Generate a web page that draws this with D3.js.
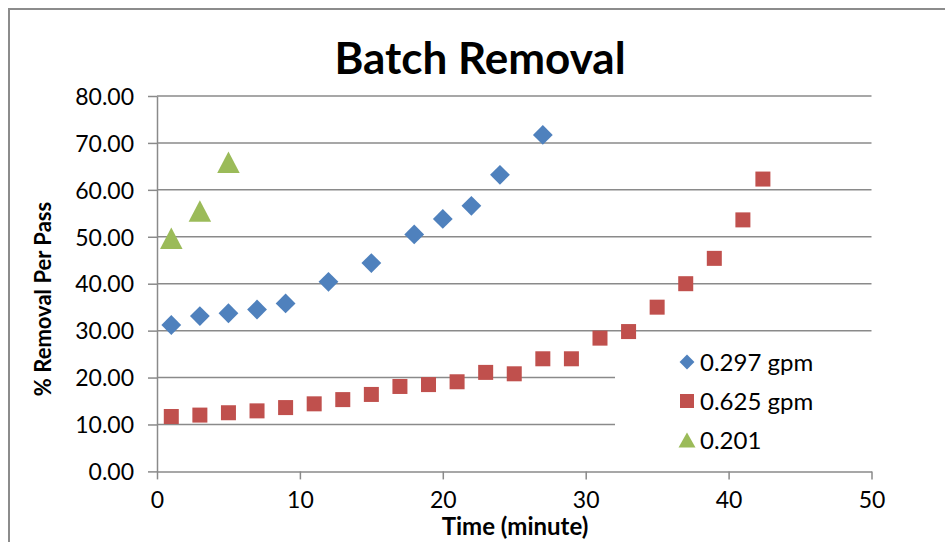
<!DOCTYPE html>
<html>
<head>
<meta charset="utf-8">
<script src="https://cdn.jsdelivr.net/npm/d3@7"></script>
<style>
  body { margin: 0; background: #fff; }
  text { font-family: Lato, "Open Sans", sans-serif; fill: #000; }
</style>
</head>
<body>
<div id="viz"></div>
<script>
var blueTime = [1, 3, 5, 7, 9, 12, 15, 18, 20, 22, 24, 27];
var blueValue = [31.2, 33.1, 33.7, 34.5, 35.8, 40.4, 44.4, 50.5, 53.8, 56.6, 63.2, 71.7];

var redTime = [1, 3, 5, 7, 9, 11, 13, 15, 17, 19, 21, 23, 25, 27, 29, 31, 33, 35, 37, 39, 41, 42.4];
var redValue = [11.7, 12.0, 12.5, 12.9, 13.6, 14.4, 15.3, 16.4, 18.1, 18.5, 19.1, 21.1, 20.8, 24.0, 24.0, 28.4, 29.8, 35.0, 40.0, 45.4, 53.6, 62.3];

var greenTime = [1, 3, 5];
var greenValue = [49.7, 55.5, 65.9];

var seriesNames = ["0.297 gpm", "0.625 gpm", "0.201"];
var xTicks = [0, 10, 20, 30, 40, 50];
var yTicks = [0, 10, 20, 30, 40, 50, 60, 70, 80];

var W = 945, H = 542;
var gridColor = "#8a8a8a";
var colors = ["#4f81bd", "#c0504d", "#9bbb59"];

var svg = d3
  .select("#viz")
  .append("svg")
  .attr("width", W)
  .attr("height", H);

// chart frame (cropped on right and bottom)
svg
  .append("path")
  .attr("d", "M9,560 L9,9 L960,9")
  .attr("fill", "none")
  .attr("stroke", "#8c8c8c")
  .attr("stroke-width", 2);

var x = d3.scaleLinear().domain([0, 50]).range([157, 871.5]);
var y = d3.scaleLinear().domain([0, 80]).range([471.4, 96]);

// gridlines
svg
  .append("g")
  .selectAll("line")
  .data(yTicks.slice(1))
  .enter()
  .append("line")
  .attr("x1", x(0))
  .attr("x2", x(50))
  .attr("y1", (d) => y(d))
  .attr("y2", (d) => y(d))
  .attr("stroke", gridColor)
  .attr("stroke-width", 1.5);

var yAxis = d3
  .axisLeft(y)
  .tickValues(yTicks)
  .tickFormat(d3.format(".2f"))
  .tickSizeInner(9)
  .tickSizeOuter(0)
  .tickPadding(14);

var xAxis = d3
  .axisBottom(x)
  .tickValues(xTicks)
  .tickSizeInner(8)
  .tickSizeOuter(0)
  .tickPadding(12);

var gy = svg
  .append("g")
  .attr("transform", "translate(" + x(0) + ",0)")
  .call(yAxis);
var gx = svg
  .append("g")
  .attr("transform", "translate(0," + y(0) + ")")
  .call(xAxis);

[gx, gy].forEach(function (g) {
  g.select(".domain").attr("stroke", gridColor).attr("stroke-width", 1.5);
  g.selectAll(".tick line").attr("stroke", gridColor).attr("stroke-width", 1.5);
  g.selectAll(".tick text")
    .attr("font-family", "Lato, sans-serif")
    .attr("font-size", 23)
    .attr("fill", "#222");
});
gy.selectAll(".tick text").attr("dy", "0.36em");
gx.selectAll(".tick text").attr("dy", "0.71em");

// legend background covers part of the grid
var legendX = 615, legendY = 338;
svg
  .append("rect")
  .attr("x", legendX)
  .attr("y", legendY)
  .attr("width", 270)
  .attr("height", 124)
  .attr("fill", "#fff");

var diamond = d3.symbol().type(d3.symbolDiamond2).size(250);
function triPath(cx, cy, w, h) {
  return "M" + cx + "," + (cy - h / 2) + "L" + (cx + w / 2) + "," + (cy + h / 2) +
    "L" + (cx - w / 2) + "," + (cy + h / 2) + "Z";
}

var blueData = blueTime.map((t, i) => ({ t: t, v: blueValue[i] }));
var redData = redTime.map((t, i) => ({ t: t, v: redValue[i] }));
var greenData = greenTime.map((t, i) => ({ t: t, v: greenValue[i] }));

svg
  .append("g")
  .selectAll("path")
  .data(blueData)
  .enter()
  .append("path")
  .attr("d", diamond)
  .attr("transform", (d) => "translate(" + x(d.t) + "," + y(d.v) + ")")
  .attr("fill", colors[0]);

svg
  .append("g")
  .selectAll("rect")
  .data(redData)
  .enter()
  .append("rect")
  .attr("x", (d) => x(d.t) - 7.5)
  .attr("y", (d) => y(d.v) - 7.5)
  .attr("width", 15)
  .attr("height", 15)
  .attr("fill", colors[1]);

svg
  .append("g")
  .selectAll("path")
  .data(greenData)
  .enter()
  .append("path")
  .attr("d", (d) => triPath(x(d.t), y(d.v), 22.5, 21.5))
  .attr("fill", colors[2]);

// legend
var legend = svg.append("g");
seriesNames.forEach(function (name, i) {
  var cy = 362 + i * 39;
  var cx = 687;
  if (i === 0) {
    legend.append("path").attr("d", d3.symbol().type(d3.symbolDiamond2).size(140))
      .attr("transform", "translate(" + cx + "," + cy + ")").attr("fill", colors[0]);
  } else if (i === 1) {
    legend.append("rect").attr("x", cx - 7).attr("y", cy - 7)
      .attr("width", 14).attr("height", 14).attr("fill", colors[1]);
  } else {
    legend.append("path").attr("d", triPath(cx, cy, 17, 15)).attr("fill", colors[2]);
  }
  legend
    .append("text")
    .attr("x", 700)
    .attr("y", cy)
    .attr("dy", "0.36em")
    .attr("font-size", 24)
    .attr("fill", "#222")
    .text(name);
});

// titles
svg
  .append("text")
  .attr("x", 480)
  .attr("y", 74)
  .attr("text-anchor", "middle")
  .attr("font-size", 44)
  .attr("font-weight", "bold")
  .text("Batch Removal");

svg
  .append("text")
  .attr("transform", "translate(51,299) rotate(-90)")
  .attr("text-anchor", "middle")
  .attr("font-size", 22)
  .attr("font-weight", "bold")
  .text("% Removal Per Pass");

svg
  .append("text")
  .attr("x", 515)
  .attr("y", 535)
  .attr("text-anchor", "middle")
  .attr("font-size", 24)
  .attr("font-weight", "bold")
  .text("Time (minute)");
</script>
</body>
</html>
